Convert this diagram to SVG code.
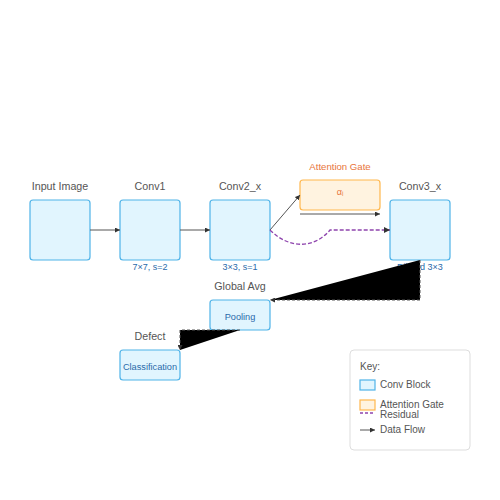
<svg xmlns="http://www.w3.org/2000/svg" width="500" height="500" viewBox="0 0 500 500">
<defs>
<marker id="arr" viewBox="0 0 10 10" refX="10" refY="5" markerWidth="5" markerHeight="5" orient="auto"><path d="M0,0 L10,5 L0,10 z" fill="#333"/></marker>
<style>
text{font-family:"Liberation Sans",Arial,sans-serif}
.conv{fill:#e1f5fe;stroke:#4fb3e8;stroke-width:1.2}
.att{fill:#fff3e0;stroke:#ffb74d;stroke-width:1.2}
.lbl{font-size:10.7px;fill:#555;text-anchor:middle}
.sub{font-size:9px;fill:#2a6aaa;text-anchor:middle}
.in{font-size:9.2px;fill:#2a6aaa;text-anchor:middle}
.flow{stroke:#555;stroke-width:1;fill:none}
.key{font-size:10px;fill:#555}
</style>
</defs>
<rect width="500" height="500" fill="#fff"/>
<g id="input"><rect class="conv" x="30" y="200" width="60" height="60" rx="3"/><text class="lbl" x="60" y="190">Input Image</text></g>
<g id="conv1"><rect class="conv" x="120" y="200" width="60" height="60" rx="3"/><text class="lbl" x="150" y="190">Conv1</text><text class="sub" x="150" y="270">7×7, s=2</text></g>
<g id="conv2"><rect class="conv" x="210" y="200" width="60" height="60" rx="3"/><text class="lbl" x="240" y="190">Conv2_x</text><text class="sub" x="240" y="270">3×3, s=1</text></g>
<g id="attention"><rect class="att" x="300" y="180" width="80" height="30" rx="3"/><text x="340" y="170" font-size="9.6" fill="#e8743b" text-anchor="middle">Attention Gate</text><text x="340" y="195" font-size="9" fill="#e8743b" text-anchor="middle">αᵢ</text></g>
<g id="conv3"><rect class="conv" x="390" y="200" width="60" height="60" rx="3"/><text class="lbl" x="420" y="190">Conv3_x</text><text class="sub" x="420" y="270">Dilated 3×3</text></g>
<g id="pool"><rect class="conv" x="210" y="300" width="60" height="30" rx="3"/><text class="lbl" x="240" y="290">Global Avg</text><text class="in" x="240" y="320">Pooling</text></g>
<g id="cls"><rect class="conv" x="120" y="350" width="60" height="30" rx="3"/><text class="lbl" x="150" y="340">Defect</text><text class="in" x="150" y="370">Classification</text></g>
<g id="connectors">
<path class="flow" d="M90,230 L120,230" marker-end="url(#arr)"/>
<path class="flow" d="M180,230 L210,230" marker-end="url(#arr)"/>
<path class="flow" d="M270,230 L300,195" marker-end="url(#arr)"/>
<path class="flow" d="M300,214 L380,214" marker-end="url(#arr)"/>
<path d="M270,230 C290,250 315,248 330,230 L390,230" fill="none" stroke="#8e44ad" stroke-width="1.3" stroke-dasharray="4,2" marker-end="url(#arr)"/>
<path d="M420,260 L420,300 L270,300" stroke="#555" stroke-width="1" stroke-dasharray="3,2" marker-end="url(#arr)"/>
<path d="M240,330 L180,330 L180,350" stroke="#555" stroke-width="1" stroke-dasharray="3,2" marker-end="url(#arr)"/>
</g>
<g id="legend">
<rect x="350" y="350" width="120" height="100" rx="4" fill="#fff" stroke="#ddd"/>
<text class="key" x="360" y="370">Key:</text>
<rect class="conv" x="360" y="380" width="15" height="10"/>
<text class="key" x="380" y="388">Conv Block</text>
<rect class="att" x="360" y="400" width="15" height="10"/>
<text class="key" x="380" y="408">Attention Gate</text>
<line x1="360" y1="413" x2="375" y2="413" stroke="#8e44ad" stroke-width="1.3" stroke-dasharray="3,2"/>
<text class="key" x="380" y="418">Residual</text>
<line x1="360" y1="430" x2="375" y2="430" stroke="#555" stroke-width="1" marker-end="url(#arr)"/>
<text class="key" x="380" y="433">Data Flow</text>
</g>
</svg>
